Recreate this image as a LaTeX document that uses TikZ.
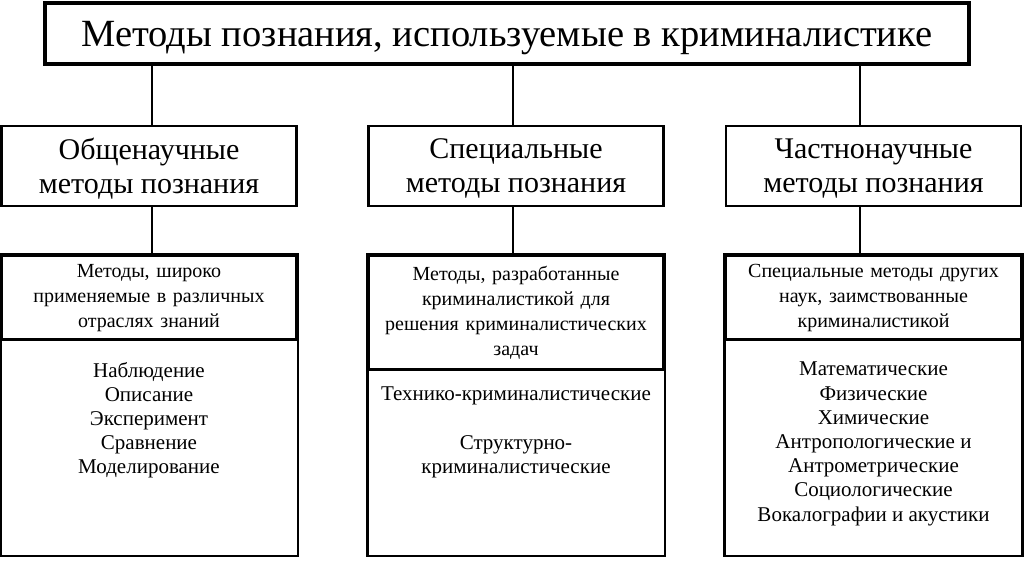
\documentclass[tikz,border=0pt]{standalone}
\usepackage{fontspec}
\setmainfont{Liberation Serif}
\usetikzlibrary{positioning}
\tikzset{
  titlebox/.style={draw, line width=4pt, minimum width=924pt, minimum height=61pt,
    inner sep=0pt, text depth=0pt, font=\fontsize{38.5}{44}\selectfont},
  catbox/.style={draw, line width=2.6pt, minimum width=295pt, minimum height=80pt,
    inner sep=0pt, text depth=0pt, align=center, font=\fontsize{30}{34}\selectfont},
  headbox/.style={draw, line width=2.6pt, text width=287pt, inner xsep=4pt, inner ysep=0pt,
    align=center, font=\fontsize{20}{25}\selectfont},
  listtext/.style={inner sep=0pt, align=center, font=\fontsize{21}{24.2}\selectfont},
  conn/.style={line width=2pt},
  frame/.style={line width=2.6pt},
}
\begin{document}
\begin{tikzpicture}[x=1pt,y=-1pt]
  \useasboundingbox (0,0) rectangle (1024,560);
  \node[titlebox] (title) at (507,33.5) {Методы познания, используемые в криминалистике};
  \node[catbox] (c1) at (149,166) {Общенаучные\\методы познания};
  \node[catbox] (c2) at (516,166) {Специальные\\методы познания};
  \node[catbox] (c3) at (873.5,166) {Частнонаучные\\методы познания};
  \node[headbox, minimum height=84pt, below=47pt of c1] (d1)
    {Методы, широко\\применяемые в различных\\отраслях знаний};
  \node[headbox, minimum height=114pt, below=47pt of c2] (d2)
    {Методы, разработанные\\криминалистикой для\\решения криминалистических\\задач};
  \node[headbox, minimum height=84pt, below=47pt of c3] (d3)
    {Специальные методы других\\наук, заимствованные\\криминалистикой};
  \node[listtext, below=21pt of d1] (l1)
    {Наблюдение\\Описание\\Эксперимент\\Сравнение\\Моделирование};
  \node[listtext, below=16pt of d2] (l2)
    {Технико-криминалистические\\[24pt]Структурно-\\криминалистические};
  \node[listtext, below=21pt of d3] (l3)
    {Математические\\Физические\\Химические\\Антропологические и\\Антрометрические\\Социологические\\Вокалографии и акустики};
  \coordinate (bot) at (0,556);
  \foreach \n/\s in {1/3,2/-3,3/-13.5} {
    \path ([xshift=\s pt]c\n.north) coordinate (t\n) ([xshift=\s pt]c\n.south) coordinate (b\n);
    \draw[conn] (t\n) -- (t\n |- title.south);
    \draw[conn] (b\n) -- (b\n |- d\n.north);
    \draw[frame] (d\n.north west) rectangle (d\n.east |- bot);
  }
\end{tikzpicture}
\end{document}
